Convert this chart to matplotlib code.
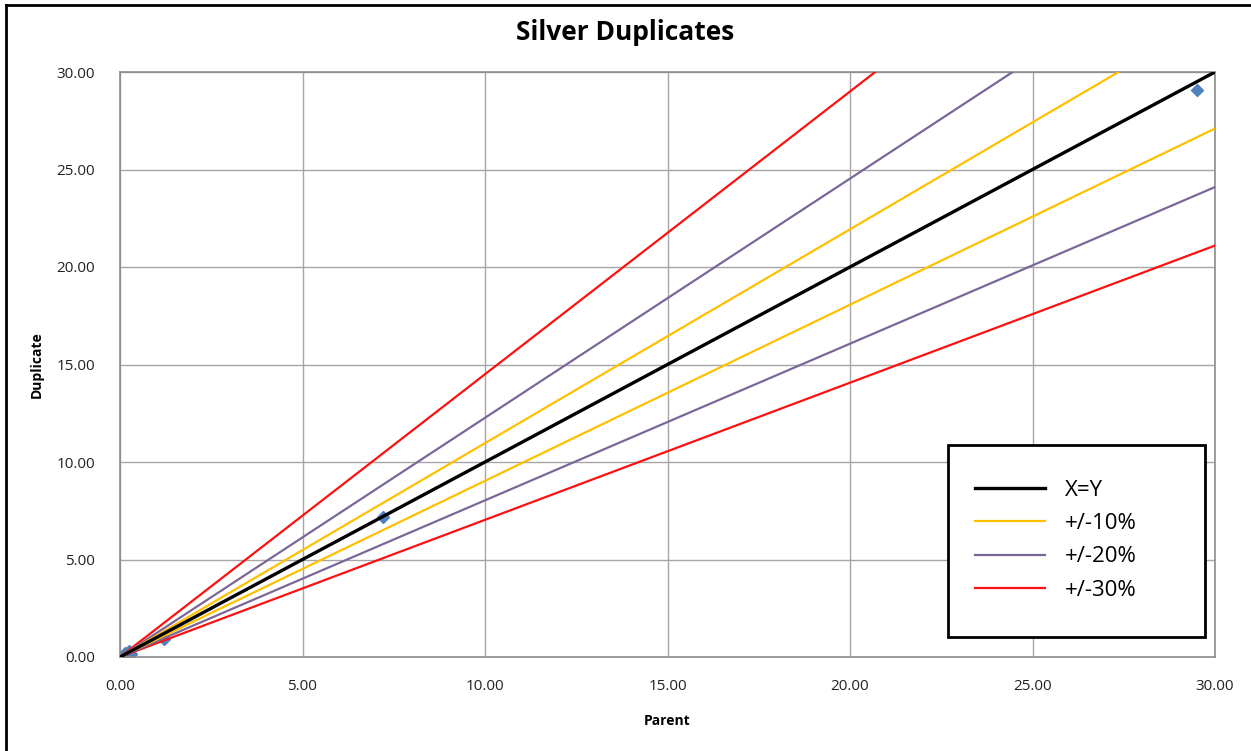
import numpy as np
import matplotlib.pyplot as plt
from matplotlib.lines import Line2D
from matplotlib.patches import Rectangle

# duplicados de plata: original vs duplicado
parent = [0.15, 0.25, 0.30, 0.20, 1.20, 7.20, 29.50]
duplicate = [0.20, 0.30, 0.15, 0.10, 0.90, 7.20, 29.10]

# lineas de referencia, valor de y en x = 0 y x = 30
line_x = [0, 30]
xy_line = [0, 30]
upper_10 = [0, 32.9]
lower_10 = [0, 27.1]
upper_20 = [0, 36.8]
lower_20 = [0, 24.1]
upper_30 = [0, 43.5]
lower_30 = [0, 21.1]

ticks = np.arange(0, 30.01, 5)

plt.rcParams['font.family'] = ['Open Sans', 'DejaVu Sans']

fig = plt.figure(figsize=(12.51, 7.51), dpi=100)
ax = fig.add_axes([120/1251, 1-657/751, 1095/1251, 585/751])

yellow = '#FFC000'
purple = '#7B6699'
red = '#FF1010'

ax.plot(parent, duplicate, linestyle='none', marker='D', markersize=6,
        color='#4F81BD', zorder=2)
ax.plot(line_x, upper_30, color=red, lw=1.6, zorder=3)
ax.plot(line_x, lower_30, color=red, lw=1.6, zorder=3)
ax.plot(line_x, upper_20, color=purple, lw=1.6, zorder=3)
ax.plot(line_x, lower_20, color=purple, lw=1.6, zorder=3)
ax.plot(line_x, upper_10, color=yellow, lw=1.6, zorder=3)
ax.plot(line_x, lower_10, color=yellow, lw=1.6, zorder=3)
ax.plot(line_x, xy_line, color='black', lw=2.4, zorder=4)

ax.set_xlim(0, 30)
ax.set_ylim(0, 30)
ax.set_xticks(ticks)
ax.set_yticks(ticks)
ax.set_xticklabels(['%.2f' % t for t in ticks])
ax.set_yticklabels(['%.2f' % t for t in ticks])
ax.tick_params(length=0, labelsize=11, colors='#222222')
ax.tick_params(axis='x', pad=16)
ax.tick_params(axis='y', pad=18)
ax.grid(True, color='#A6A6A6', lw=1.0)
ax.set_axisbelow(True)
for s in ax.spines.values():
    s.set_color('#8C8C8C')
    s.set_linewidth(1.2)

ax.set_xlabel('Parent', fontsize=10, fontweight='bold', labelpad=14)
ax.set_ylabel('Duplicate', fontsize=10, fontweight='bold', labelpad=9)
fig.text(0.5, 1-32/751, 'Silver Duplicates', fontsize=19, fontweight='bold',
         ha='center', va='center')

# leyenda con marco dibujado aparte
fig.add_artist(Rectangle((948/1251, 1-637/751), 257/1251, 192/751,
                         transform=fig.transFigure, facecolor='white',
                         edgecolor='black', lw=2, zorder=5))
handles = [Line2D([], [], color='black', lw=2.4),
           Line2D([], [], color=yellow, lw=1.6),
           Line2D([], [], color=purple, lw=1.6),
           Line2D([], [], color=red, lw=1.6)]
leg = fig.legend(handles, ['X=Y', '+/-10%', '+/-20%', '+/-30%'],
                 loc='upper left', bbox_to_anchor=(975/1251, 1-480/751),
                 fontsize=16, frameon=False, handlelength=3.15,
                 handletextpad=0.9, borderpad=0, labelspacing=0.55,
                 borderaxespad=0)
leg.set_zorder(6)

# marco exterior
fig.add_artist(Line2D([6/1251, 6/1251], [0, 1-5/751], color='black', lw=2,
                      transform=fig.transFigure))
fig.add_artist(Line2D([6/1251, 1], [1-5/751, 1-5/751], color='black', lw=2,
                      transform=fig.transFigure))

fig.savefig('out.png', dpi=100)
